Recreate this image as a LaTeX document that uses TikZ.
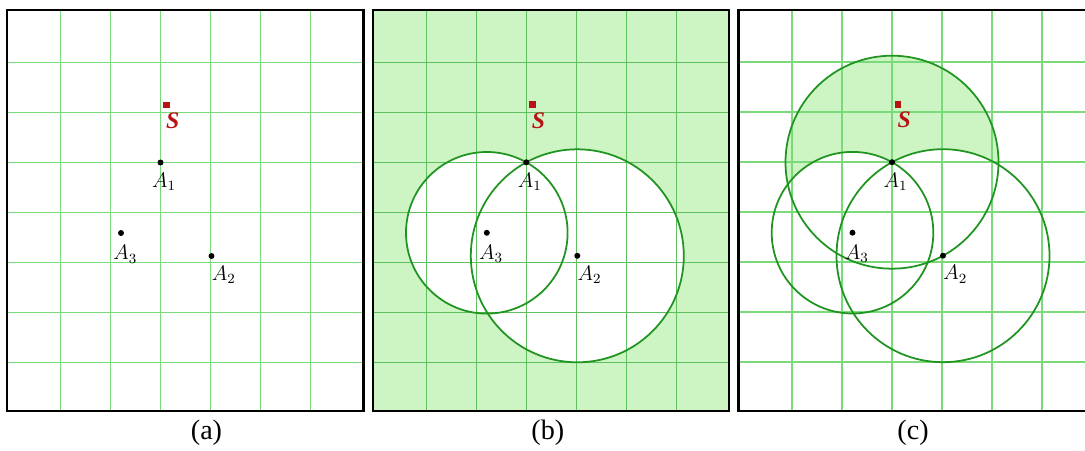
\documentclass[tikz,border=0pt]{standalone}
\usepackage{fontspec}
\setmainfont{Liberation Serif}
\usetikzlibrary{positioning}
\definecolor{gridgreen}{RGB}{122,218,122}
\definecolor{griddark}{RGB}{96,192,96}
\definecolor{region}{RGB}{205,245,196}
\definecolor{ringgreen}{RGB}{32,148,32}
\definecolor{source}{RGB}{185,18,18}

\tikzset{
  boxline/.style={draw=black, line width=1.2pt},
  gridlines/.style={line width=0.8pt},
  ring/.style={draw=ringgreen, line width=1pt},
  mote/.style={circle, fill=black, inner sep=0pt, minimum size=3.4pt},
  srcsq/.style={rectangle, fill=source, inner sep=0pt, minimum size=3.8pt},
  ptlabel/.style={inner sep=0pt, font=\fontsize{12}{14}\selectfont},
  srclabel/.style={inner sep=0pt, text=source, font=\fontsize{13.5}{15}\selectfont\bfseries\itshape},
  caption/.style={inner sep=0pt, font=\fontsize{16}{18}\selectfont}
}

% anchors of one panel, relative to A1
\newcommand{\defmotes}[1]{%
  \coordinate (#1A1) at (0,0);
  \coordinate (#1A2) at (1.02,-1.87);
  \coordinate (#1A3) at (-0.79,-1.41);
  \coordinate (#1S) at (0.12,1.15);
}
% dots, square and their labels
\newcommand{\placemotes}[1]{%
  \node[mote] (#1d1) at (#1A1) {};
  \node[mote] (#1d2) at (#1A2) {};
  \node[mote] (#1d3) at (#1A3) {};
  \node[srcsq] (#1sq) at (#1S) {};
  \node[ptlabel, below=4pt of #1d1, xshift=2pt] (#1l1) {$A_1$};
  \node[ptlabel, below=3.5pt of #1d2, xshift=7pt] (#1l2) {$A_2$};
  \node[ptlabel, below=5pt of #1d3, xshift=2.4pt] (#1l3) {$A_3$};
  \node[srclabel, below=2pt of #1sq, xshift=3.5pt] (#1ls) {S};
}
\newcommand{\panelgrid}[1]{%
  \foreach \gx in {-2,...,3} \draw[gridlines, draw=#1] (\gx,-4.97) -- (\gx,3.05);
  \foreach \gy in {-4,...,2} \draw[gridlines, draw=#1] (-3.07,\gy) -- (4.06,\gy);
}
\newcommand{\panelbox}{\draw[boxline] (-3.07,-4.97) rectangle (4.06,3.05);}

\begin{document}
\begin{tikzpicture}
  \useasboundingbox (0,0) rectangle (21.7,9);
  \clip (0,0) rectangle (21.7,9);

  % (a) sensors only
  \begin{scope}[shift={(3.21,5.75)}]
    \defmotes{a}
    \panelgrid{gridgreen}
    \panelbox
    \placemotes{a}
    \node[caption] (capa) at (0.92,-5.41) {(a)};
  \end{scope}

  % (b) outside both circles
  \begin{scope}[shift={(10.526,5.754)}]
    \defmotes{b}
    \fill[region] (-3.07,-4.97) rectangle (4.06,3.05);
    \fill[white] (bA3) circle (1.616) (bA2) circle (2.13);
    \panelgrid{griddark}
    \draw[ring] (bA3) circle (1.616);
    \draw[ring] (bA2) circle (2.13);
    \panelbox
    \placemotes{b}
    \node[caption] (capb) at (0.43,-5.41) {(b)};
  \end{scope}

  % (c) inside the A1 circle only
  \begin{scope}[shift={(17.84,5.756)}]
    \defmotes{c}
    \fill[region] (cA1) circle (2.13);
    \fill[white] (cA3) circle (1.616) (cA2) circle (2.13);
    \panelgrid{gridgreen}
    \draw[ring] (cA1) circle (2.13);
    \draw[ring] (cA3) circle (1.616);
    \draw[ring] (cA2) circle (2.13);
    \panelbox
    \placemotes{c}
    \node[caption] (capc) at (0.42,-5.41) {(c)};
  \end{scope}
\end{tikzpicture}
\end{document}
